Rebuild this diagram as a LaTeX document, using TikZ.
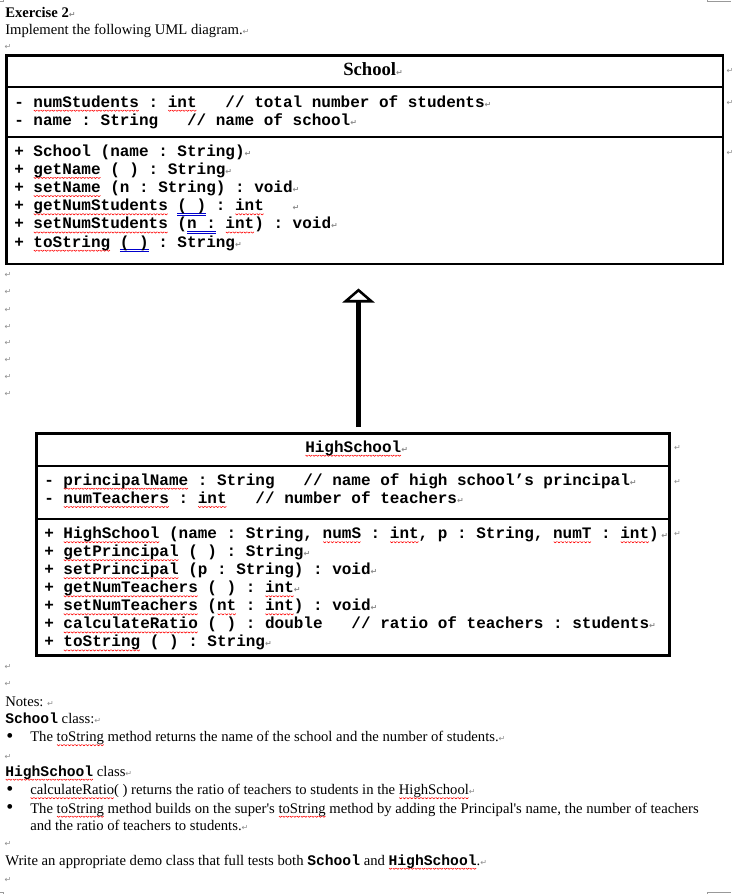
\documentclass[tikz,border=0pt]{standalone}
\usepackage{fontspec}
\setmainfont{Liberation Serif}[Ligatures=TeXOff]
\newfontfamily\cour{Liberation Mono}
\newfontfamily\djv{DejaVu Sans}
\usetikzlibrary{arrows.meta,fit}
\newsavebox\wavepiece
\newsavebox\wvbox
\AtBeginDocument{%
  \frenchspacing
  \sbox\wavepiece{\begin{pgfpicture}%
    \pgfsetlinewidth{0.45pt}\pgfsetstrokecolor{red}%
    \pgfpathmoveto{\pgfpoint{0pt}{0pt}}%
    \pgfpathlineto{\pgfpoint{1.1pt}{-0.9pt}}%
    \pgfpathlineto{\pgfpoint{2.2pt}{0pt}}%
    \pgfusepath{stroke}%
    \pgfpathrectangle{\pgfpoint{0pt}{-1.2pt}}{\pgfpoint{2.2pt}{1.5pt}}%
    \pgfusepath{use as bounding box}%
    \pgfsetbaseline{0pt}%
  \end{pgfpicture}}}
\newcommand\rwv[1]{\sbox\wvbox{#1}\rlap{\lower2.3pt\hbox to\wd\wvbox{\xleaders\copy\wavepiece\hfil}}\usebox\wvbox}
\newcommand\bdu[1]{\sbox\wvbox{#1}\rlap{\textcolor{blue!80!black}{\rule[-2.3pt]{\wd\wvbox}{0.5pt}}}\rlap{\textcolor{blue!80!black}{\rule[-3.8pt]{\wd\wvbox}{0.5pt}}}\usebox\wvbox}
\newcommand\pmk{{\djv\fontsize{6}{6}\selectfont\textcolor{black!45}{↵}}}
\tikzset{
  code/.style={anchor=base west, inner sep=0pt, font=\cour\bfseries\fontsize{12}{14}\selectfont\frenchspacing},
  body/.style={anchor=base west, inner sep=0pt, font=\fontsize{11}{13}\selectfont\frenchspacing},
  bul/.style={anchor=base west, inner sep=0pt, text height=5pt, text depth=0pt, font=\fontsize{15}{15}\selectfont},
  pm/.style={inner sep=0pt, font=\djv\fontsize{6}{6}\selectfont, text=black!45},
  umlbox/.style={draw, line width=2.2pt, inner sep=0pt},
  divider/.style={line width=2.2pt},
  corner/.style={draw=black!40, line width=0.8pt},
  inherit/.style={line width=3.3pt, -{Triangle[open, length=10.5pt, width=24pt, line width=1.9pt]}},
}
\begin{document}
\begin{tikzpicture}[x=0.75pt, y=-0.75pt]
\path[use as bounding box] (0,0) rectangle (746,894);

% page corner marks
\draw[corner] (0,1.5) -- (3.5,1.5) -- (3.5,0);
\draw[corner] (707.7,0) -- (707.7,1.5) -- (731,1.5);
\draw[corner] (0,892.5) -- (3.5,892.5) -- (3.5,894);
\draw[corner] (707.7,894) -- (707.7,892.5) -- (731,892.5);

% heading
\node[body, font=\bfseries\fontsize{11}{13}\selectfont] (ex) at (5,17) {Exercise 2\pmk};
\node[body] (impl) at (5,34) {Implement the following UML diagram.\pmk};
\node[pm] (r0) at (8,47) {↵};

% ---------------- School box
\node[umlbox, fit={(6.5,55.5) (723,264)}] (school) {};
\draw[divider] (school.west |- 0,87) -- (school.east |- 0,87);
\draw[divider] (school.west |- 0,137) -- (school.east |- 0,137);
\node[anchor=base west, inner sep=0pt, font=\bfseries\fontsize{14}{16}\selectfont] (sname) at (343,75) {School\pmk};
\node[code] (sa1) at (14,107) {- \rwv{numStudents} : \rwv{int}\ \ \ // total number of students\pmk};
\node[code] (sa2) at (14,125) {- name : String\ \ \ // name of school\pmk};
\node[code] (sm1) at (14,156) {+ School (name : String)\pmk};
\node[code] (sm2) at (14,174.2) {+ \rwv{getName} ( ) : String\pmk};
\node[code] (sm3) at (14,192.4) {+ \rwv{setName} (n : String) : void\pmk};
\node[code] (sm4) at (14,210.6) {+ \rwv{getNumStudents} \bdu{( )} : \rwv{int}\ \ \ \pmk};
\node[code] (sm5) at (14,228.8) {+ \rwv{setNumStudents} (\bdu{n :} \rwv{int}) : void\pmk};
\node[code] (sm6) at (14,247) {+ \rwv{toString} \bdu{( )} : String\pmk};
\node[pm] (se1) at (730,71) {↵};
\node[pm] (se2) at (730,103) {↵};
\node[pm] (se3) at (730,152.5) {↵};

% empty paragraph marks in the gap
\foreach \i/\yy in {1/275,2/292,3/309.5,4/326.5,5/343,6/360,7/377,8/393.5}
  \node[pm] (g\i) at (8,\yy) {↵};

% ---------------- HighSchool box
\node[umlbox, fit={(36.5,433.5) (669.5,655.5)}] (hs) {};
\draw[divider] (hs.west |- 0,466) -- (hs.east |- 0,466);
\draw[divider] (hs.west |- 0,519) -- (hs.east |- 0,519);
\node[code] (hname) at (305,452) {\rwv{HighSchool}\pmk};
\node[code] (ha1) at (44,485) {- \rwv{principalName} : String\ \ \ // name of high school’s principal\pmk};
\node[code] (ha2) at (44,503.3) {- \rwv{numTeachers} : \rwv{int}\ \ \ // number of teachers\pmk};
\node[code] (hm1) at (44,538.5) {+ \rwv{HighSchool} (name : String, \rwv{numS} : \rwv{int}, p : String, \rwv{numT} : \rwv{int})\,\pmk};
\node[code] (hm2) at (44,556.5) {+ \rwv{getPrincipal} ( ) : String\pmk};
\node[code] (hm3) at (44,574.5) {+ \rwv{setPrincipal} (p : String) : void\pmk};
\node[code] (hm4) at (44,592.6) {+ \rwv{getNumTeachers} ( ) : \rwv{int}\pmk};
\node[code] (hm5) at (44,610.6) {+ \rwv{setNumTeachers} (\rwv{nt} : \rwv{int}) : void\pmk};
\node[code] (hm6) at (44,628.7) {+ \rwv{calculateRatio} ( ) : double\ \ \ // ratio of teachers : students\pmk};
\node[code] (hm7) at (44,646.7) {+ \rwv{toString} ( ) : String\pmk};
\node[pm] (he1) at (677.5,447.5) {↵};
\node[pm] (he2) at (677.5,481.5) {↵};
\node[pm] (he3) at (677.5,533.5) {↵};

% inheritance arrow
\coordinate (tip) at (358.5,288.5);
\draw[inherit] (hs.north -| tip) ++(0,-5) -- (tip);

% ---------------- notes
\node[pm] (n0) at (8,667) {↵};
\node[pm] (n1) at (8,684) {↵};
\node[body] (notes) at (5,706) {Notes: \pmk};
\node[body] (scl) at (5,723.5) {{\cour\bfseries\fontsize{11}{13}\selectfont School} class:\pmk};
\node[bul] (b1) at (6,742) {•};
\node[body] (t1) at (30,741.5) {The \rwv{toString} method returns the name of the school and the number of students.\pmk};
\node[pm] (n2) at (8,757) {↵};
\node[body] (hcl) at (5,776) {{\cour\bfseries\fontsize{11}{13}\selectfont\rwv{HighSchool}} class\pmk};
\node[bul] (b2) at (6,795) {•};
\node[body] (t2) at (30,794.5) {\rwv{calculateRatio}( ) returns the ratio of teachers to students in the \rwv{HighSchool}\pmk};
\node[bul] (b3) at (6,813.5) {•};
\node[body] (t3) at (30,813) {The \rwv{toString} method builds on the super's \rwv{toString} method by adding the Principal's name, the number of teachers};
\node[body] (t4) at (30,830.5) {and the ratio of teachers to students.\pmk};
\node[pm] (n3) at (8,844) {↵};
\node[body] (wr) at (5,865) {Write an appropriate demo class that full tests both {\cour\bfseries\fontsize{11}{13}\selectfont School} and {\cour\bfseries\fontsize{11}{13}\selectfont\rwv{HighSchool}}.\pmk};
\node[pm] (n4) at (8,880) {↵};
\end{tikzpicture}
\end{document}
